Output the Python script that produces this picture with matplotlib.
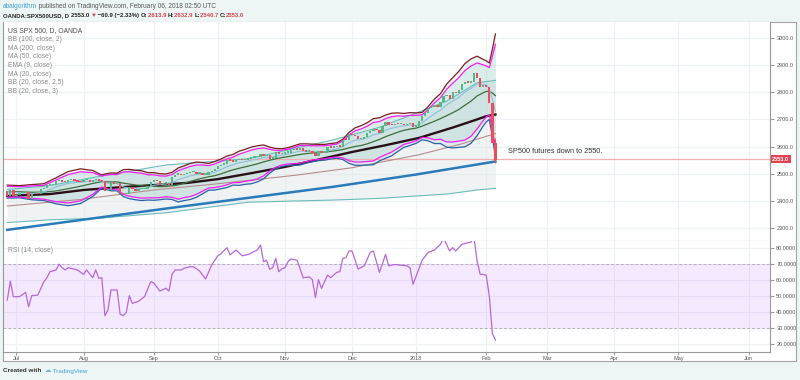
import numpy as np
import pandas as pd
import matplotlib
matplotlib.use('Agg')
import matplotlib.pyplot as plt
from matplotlib.patches import Rectangle

plt.rcParams['font.family'] = ['Liberation Sans', 'DejaVu Sans']

W, H = 800, 380

# daily closes, one per weekday from 2017-06-27 up to 2018-02-06
closes = [2419, 2440, 2419, 2423,
          2429, 2430, 2432, 2409, 2425, 2427, 2425, 2443, 2447, 2459,
          2459, 2460, 2473, 2473, 2472, 2470, 2477, 2477, 2475, 2472,
          2470, 2476, 2478, 2472, 2476, 2480, 2475, 2474, 2438, 2441,
          2465, 2464, 2468, 2431, 2426, 2428, 2452, 2444, 2439, 2444,
          2444, 2446, 2457, 2472, 2477, 2474, 2458, 2465, 2465, 2461,
          2488, 2497, 2498, 2495, 2500, 2504, 2506, 2508, 2501, 2502,
          2497, 2497, 2507, 2510, 2519, 2529, 2534, 2537, 2552, 2549,
          2545, 2550, 2555, 2551, 2553, 2557, 2560, 2561, 2562, 2575,
          2565, 2569, 2557, 2560, 2581, 2573, 2575, 2579, 2579, 2587,
          2591, 2590, 2594, 2584, 2582, 2584, 2579, 2565, 2585, 2579,
          2582, 2599, 2597, 2599, 2602, 2601, 2627, 2626, 2648, 2642,
          2639, 2629, 2629, 2637, 2652, 2660, 2664, 2662, 2652, 2675,
          2690, 2681, 2679, 2684, 2683, 2683, 2680, 2683, 2687, 2674,
          2674, 2695, 2713, 2724, 2743, 2748, 2751, 2748, 2767, 2786,
          2790, 2777, 2803, 2798, 2810, 2833, 2839, 2837, 2839, 2873,
          2853, 2822, 2824, 2822, 2762, 2614, 2553]
first_open = 2439
last_high, last_low = 2632.9, 2540.7

# 20 bar indicators, read at these bars (bar 0 = 2017-07-03)
band_bars = [-4, 0, 4, 8, 12, 16, 20, 24, 27, 28, 30, 32, 34, 36, 38, 40, 42, 44,
             46, 48, 50, 52, 54, 56, 58, 60, 62, 64, 66, 68, 70, 72, 74, 76, 78,
             80, 82, 84, 86, 88, 90, 92, 94, 96, 98, 100, 102, 104, 106, 108, 110,
             112, 114, 116, 118, 120, 122, 124, 126, 128, 130, 132, 134, 136, 138,
             140, 142, 144, 146, 148, 150, 152, 153, 154, 155, 156]
ma20 = [2433.7, 2433.3, 2431.7, 2431.9, 2436.5, 2444.6, 2453.8, 2464.1, 2470.8,
        2470.3, 2469.7, 2469.7, 2465.3, 2461.9, 2458.5, 2455.8, 2453.2, 2453.3,
        2452.1, 2453.0, 2455.2, 2458.3, 2465.2, 2471.7, 2478.0, 2483.6, 2488.6,
        2492.6, 2499.2, 2507.1, 2514.4, 2519.9, 2525.3, 2530.7, 2536.4, 2543.4,
        2549.5, 2555.1, 2559.4, 2562.8, 2567.0, 2571.0, 2574.1, 2576.4, 2577.7,
        2578.8, 2582.3, 2585.3, 2589.3, 2595.1, 2600.2, 2603.9, 2610.1, 2618.1,
        2626.3, 2636.5, 2644.7, 2653.0, 2659.8, 2664.6, 2667.9, 2675.4, 2684.3,
        2693.1, 2703.1, 2713.7, 2724.7, 2736.7, 2752.2, 2767.5, 2786.4, 2798.3,
        2803.2, 2804.1, 2797.4, 2787.5]
ema9 = [2433.4, 2429.7, 2425.8, 2432.8, 2451.2, 2464.3, 2469.3, 2472.9, 2474.3,
        2467.1, 2462.5, 2463.9, 2451.0, 2447.5, 2445.3, 2444.8, 2447.4, 2457.3,
        2460.1, 2461.9, 2467.0, 2478.0, 2485.1, 2492.3, 2496.5, 2497.5, 2499.3,
        2505.0, 2514.6, 2525.7, 2533.3, 2540.3, 2544.5, 2549.6, 2553.9, 2559.5,
        2560.5, 2564.5, 2568.0, 2572.0, 2578.2, 2583.2, 2583.1, 2582.4, 2580.2,
        2580.3, 2586.7, 2591.7, 2600.3, 2613.9, 2623.4, 2625.4, 2632.6, 2643.3,
        2648.0, 2660.7, 2667.6, 2673.3, 2676.2, 2679.4, 2677.5, 2687.4, 2704.4,
        2720.7, 2734.3, 2753.7, 2767.3, 2780.8, 2800.8, 2814.2, 2831.4, 2828.4,
        2827.1, 2814.1, 2774.1, 2729.9]
bb3_up = [2458, 2456, 2460, 2463, 2485, 2508, 2518, 2512, 2495, 2499, 2503, 2502,
          2515, 2516, 2513, 2511, 2504, 2504, 2500, 2499, 2505, 2521, 2529, 2538,
          2543, 2541, 2538, 2545, 2554, 2565, 2571, 2583, 2590, 2598, 2603, 2606,
          2598, 2593, 2592, 2596, 2603, 2610, 2610, 2609, 2608, 2608, 2611, 2614,
          2627, 2652, 2669, 2677, 2688, 2703, 2706, 2716, 2723, 2724, 2722, 2725,
          2724, 2726, 2748, 2775, 2795, 2830, 2854, 2877, 2906, 2923, 2933, 2921,
          2916, 2908, 2959, 3015]
bb25_up = [2454, 2452, 2455, 2457, 2477, 2497, 2507, 2504, 2491, 2494, 2497, 2497,
           2506, 2507, 2504, 2502, 2496, 2496, 2492, 2491, 2497, 2511, 2519, 2527,
           2532, 2532, 2530, 2536, 2545, 2555, 2561, 2572, 2579, 2587, 2592, 2595,
           2590, 2586, 2587, 2590, 2597, 2604, 2604, 2603, 2603, 2603, 2606, 2609,
           2621, 2642, 2658, 2665, 2675, 2689, 2692, 2703, 2710, 2713, 2712, 2715,
           2715, 2717, 2737, 2761, 2780, 2811, 2833, 2854, 2880, 2897, 2908, 2901,
           2897, 2891, 2932, 2977]
bb25_lo = [2414, 2414, 2409, 2406, 2397, 2392, 2400, 2424, 2451, 2447, 2442, 2443,
           2424, 2417, 2413, 2410, 2411, 2411, 2412, 2415, 2413, 2406, 2412, 2416,
           2424, 2436, 2447, 2449, 2453, 2459, 2467, 2467, 2472, 2475, 2481, 2492,
           2510, 2524, 2532, 2536, 2537, 2539, 2545, 2550, 2553, 2555, 2559, 2562,
           2558, 2548, 2543, 2543, 2545, 2547, 2560, 2570, 2580, 2594, 2608, 2614,
           2621, 2634, 2632, 2625, 2627, 2617, 2617, 2620, 2624, 2638, 2665, 2696,
           2710, 2717, 2663, 2598]
bb3_lo = [2410, 2411, 2404, 2401, 2389, 2382, 2390, 2416, 2447, 2442, 2437, 2437,
          2416, 2408, 2404, 2401, 2403, 2402, 2404, 2407, 2405, 2396, 2401, 2405,
          2413, 2426, 2439, 2440, 2444, 2449, 2458, 2457, 2461, 2463, 2470, 2481,
          2502, 2518, 2527, 2530, 2531, 2532, 2539, 2544, 2548, 2550, 2554, 2557,
          2552, 2538, 2531, 2531, 2532, 2533, 2547, 2557, 2566, 2582, 2597, 2604,
          2612, 2625, 2621, 2611, 2611, 2598, 2595, 2597, 2599, 2612, 2640, 2676,
          2691, 2700, 2636, 2560]

# slower lines
ma50_bars = [-4, 10, 21, 33, 44, 55, 65, 76, 87, 98, 109, 120, 131, 142, 150, 153, 156]
ma50 = [2418, 2425, 2440, 2450, 2458, 2466, 2480, 2502, 2525, 2552, 2580, 2605,
        2632, 2670, 2700, 2712, 2718]
ma200_bars = [-4, 49, 103, 130, 156]
ma200 = [2293, 2373, 2452, 2497, 2545]
bb100_mid_bars = [-4, 20, 44, 65, 91, 109, 131, 145, 156]
bb100_mid = [2381, 2405, 2440, 2463, 2495, 2522, 2570, 2610, 2648]
bb100_bars = [-4, 10, 26, 48, 75, 103, 118, 140, 150, 156]
bb100_up = [2442, 2456, 2490, 2532, 2555, 2625, 2671, 2767, 2835, 2844]
bb100_lo = [2320, 2330, 2336, 2356, 2395, 2403, 2409, 2425, 2440, 2446]

# RSI (14)
rsi_bars = [-4, -3, -2, 0, 2, 3, 4, 6, 8, 9, 10, 12, 13, 14, 15, 16, 19, 21, 22, 24,
            25, 26, 27, 28, 29, 30, 32, 33, 34, 35, 36, 37, 39, 41, 43, 44, 46, 48,
            49, 50, 51, 53, 54, 56, 57, 59, 61, 63, 65, 66, 68, 69, 71, 73, 75, 78,
            79, 80, 81, 82, 83, 84, 85, 86, 87, 88, 89, 91, 93, 95, 96, 97, 98, 99,
            101, 102, 104, 105, 106, 107, 108, 109, 111, 113, 115, 116, 118, 120,
            121, 123, 127, 128, 129, 131, 132, 134, 136, 138, 139, 141, 142, 143,
            145, 147, 148, 149, 150, 151, 152, 153, 154, 155, 156]
rsi = [47.5, 59.4, 49.6, 49.6, 52.3, 43.3, 50.2, 50.6, 59.0, 61.5, 65.3, 66.4, 70.0,
       67.8, 66.4, 67.8, 66.4, 63.6, 66.4, 61.5, 66.4, 61.1, 61.5, 37.6, 41.2, 53.8,
       53.8, 38.5, 37.6, 39.7, 50.2, 45.4, 46.7, 49.6, 59.0, 58.3, 53.1, 54.9, 53.1,
       63.6, 66.4, 66.4, 67.5, 68.4, 68.4, 65.8, 60.7, 69.5, 75.3, 76.5, 80.4, 75.9,
       78.9, 75.3, 76.1, 79.0, 82.0, 71.6, 72.5, 66.8, 67.8, 73.7, 65.3, 67.1, 67.8,
       71.6, 73.3, 72.5, 61.5, 62.0, 60.3, 48.9, 60.3, 54.8, 63.2, 61.5, 64.9, 65.3,
       73.7, 74.1, 78.3, 78.3, 67.0, 69.0, 77.5, 78.3, 64.9, 76.2, 69.0, 69.8, 69.0,
       67.8, 57.4, 67.5, 72.6, 77.5, 78.9, 82.5, 86.5, 78.3, 80.4, 78.3, 82.5, 83.5,
       84.0, 86.5, 72.0, 63.6, 63.6, 63.0, 50.0, 26.5, 22.3]

months = ['Jul', 'Aug', 'Sep', 'Oct', 'Nov', 'Dec', '2018', 'Feb', 'Mar', 'Apr', 'May', 'Jun']
price_ticks = [2300, 2400, 2500, 2600, 2700, 2800, 2900, 3000]
rsi_ticks = [20, 30, 40, 50, 60, 70, 80]
last_price = 2553.0

legend = ['US SPX 500, D, OANDA', 'BB (100, close, 2)', 'MA (200, close)', 'MA (50, close)',
          'EMA (9, close)', 'MA (20, close)', 'BB (20, close, 2.5)', 'BB (20, close, 3)']

# bar positions from the calendar
origin = np.datetime64('2017-07-03')
days = pd.bdate_range('2017-06-27', periods=len(closes)).values.astype('datetime64[D]')
x = np.busday_count(origin, days)
month_starts = pd.date_range('2017-07-01', periods=len(months), freq='MS').values.astype('datetime64[D]')
month_x = np.busday_count(origin, month_starts)

fig = plt.figure(figsize=(W / 100, H / 100), dpi=100)
fig.patch.set_facecolor('#eef6f5')
fig.patches.append(Rectangle((3 / W, 1 - 361 / H), 793 / W, 339 / H, transform=fig.transFigure,
                             facecolor='white', edgecolor='#a3a3a3', lw=0.8, zorder=-1))

ax = fig.add_axes([3 / W, 1 - 241 / H, 767 / W, 219 / H])
ax2 = fig.add_axes([3 / W, 1 - 352 / H, 767 / W, 111 / H], sharex=ax)

for a in (ax, ax2):
    a.set_axisbelow(True)
    a.grid(color='#eef2f6', lw=0.9)
    a.yaxis.tick_right()
    a.tick_params(axis='y', length=3, pad=1.5, labelsize=4, colors='#9a9a9a', labelcolor='#555555')
    for s in a.spines.values():
        s.set_color('#9a9a9a')
        s.set_linewidth(0.8)
    a.spines['top'].set_visible(False)

ax.set_xlim(-5.4, 246)
ax.set_xticks(month_x)
ax.tick_params(axis='x', bottom=False, labelbottom=False)
ax.set_ylim(2252, 3059)
ax.set_yticks(price_ticks)
ax.set_yticklabels(['%.1f' % t for t in price_ticks])

# bands
ax.fill_between(bb100_bars, bb100_lo, bb100_up, color='#dde5e5', alpha=0.45, lw=0, zorder=1)
ax.fill_between(band_bars, bb3_lo, bb3_up, color='#7fc1b8', alpha=0.15, lw=0, zorder=1.2)
ax.fill_between(band_bars, bb25_lo, bb25_up, color='#7fc1b8', alpha=0.15, lw=0, zorder=1.2)
ax.axhline(last_price, color='#f4b0b0', lw=0.9, zorder=1.5)

ax.plot(bb100_bars, bb100_up, color='#6bbcbc', lw=0.8, zorder=2)
ax.plot(bb100_bars, bb100_lo, color='#6bbcbc', lw=0.8, zorder=2)
ax.plot(bb100_mid_bars, bb100_mid, color='#b88c8c', lw=0.8, zorder=2)
ax.plot(ma200_bars, ma200, color='#2b7bba', lw=1.8, zorder=2)
ax.plot(ma50_bars, ma50, color='#2b0f18', lw=1.7, zorder=2.5)
ax.plot(band_bars, ma20, color='#3e6e3a', lw=0.9, zorder=2.5)
ax.plot(band_bars, ema9, color='#8cc0dc', lw=0.8, zorder=2.5)
ax.plot(band_bars, bb3_up, color='#7a1e1e', lw=0.9, zorder=3)
ax.plot(band_bars, bb3_lo, color='#2e62a8', lw=0.9, zorder=3)
ax.plot(band_bars, bb25_up, color='#f01ef0', lw=0.9, zorder=3)
ax.plot(band_bars, bb25_lo, color='#f01ef0', lw=0.9, zorder=3)

# candles
c = np.array(closes, float)
o = np.r_[first_open, c[:-1]]
col = np.where(c >= o, '#53b987', '#eb4d5c')
ax.vlines(x[-1], last_low, last_high, color=col[-1], lw=0.7, zorder=4)
ax.bar(x, np.maximum(np.abs(c - o), 5), bottom=np.minimum(o, c) - 1, width=0.75,
       color=col, lw=0, zorder=5)

ax.text(160, 2580, 'SP500 futures down to 2550.', fontsize=5.3, color='#333333',
        ha='left', va='center')
ax.text(1.003, last_price, '%.1f' % last_price, transform=ax.get_yaxis_transform(),
        fontsize=4, color='white', fontweight='bold', ha='left', va='center',
        bbox=dict(boxstyle='square,pad=0.25', fc='#e5404e', ec='none'))

# RSI pane
ax2.set_ylim(14.8, 84.6)
ax2.set_yticks(rsi_ticks)
ax2.set_yticklabels(['%.4f' % t for t in rsi_ticks])
ax2.axhspan(30, 70, color='#9915ff', alpha=0.09, lw=0, zorder=0.8)
for lvl in (30, 70):
    ax2.axhline(lvl, color='#b8b0bc', lw=0.7, ls=(0, (3, 2)), zorder=1)
ax2.plot(rsi_bars, rsi, color='#b469d8', lw=0.9, zorder=3)
ax2.set_xticks(month_x)
ax2.set_xticklabels(months)
ax2.tick_params(axis='x', length=2, pad=1, labelsize=4, colors='#9a9a9a', labelcolor='#555555')

# texts
fs = 4.9
for k, s in enumerate(legend):
    fig.text(8 / W, 1 - (31 + 8.6 * k) / H, s, fontsize=fs, va='center',
             color='#4c4c4c' if k == 0 else '#8c8c8c')
fig.text(8 / W, 1 - 250 / H, 'RSI (14, close)', fontsize=fs, va='center', color='#8c8c8c')

renderer = fig.canvas.get_renderer()


def text_row(px, py, parts, size):
    for s, color, weight in parts:
        t = fig.text(px / W, 1 - py / H, s, fontsize=size, color=color,
                     fontweight=weight, va='center')
        px = t.get_window_extent(renderer).x1


red = '#d9434f'
text_row(3, 6.5, [('abalgorithm', '#3fa1d8', 'normal'),
                  (' published on TradingView.com, February 06, 2018 02:50 UTC', '#555555', 'normal')], 4.7)
text_row(3, 15.5, [('OANDA:SPX500USD, D ', '#222222', 'bold'), ('2553.0 ', '#222222', 'bold'),
                   ('\u25bc', red, 'bold'), (' \u221260.9 (\u22122.33%) ', '#222222', 'bold'),
                   ('O:', '#222222', 'bold'), ('2613.9 ', red, 'bold'),
                   ('H:', '#222222', 'bold'), ('2632.9 ', red, 'bold'),
                   ('L:', '#222222', 'bold'), ('2540.7 ', red, 'bold'),
                   ('C:', '#222222', 'bold'), ('2553.0', red, 'bold')], 4.3)
text_row(3, 371, [('Created with  ', '#333333', 'bold'), ('\u2601', '#5fb3e0', 'normal'),
                  (' TradingView', '#3fa1d8', 'normal')], 4.6)

fig.savefig('out.png', dpi=100, facecolor=fig.get_facecolor())
